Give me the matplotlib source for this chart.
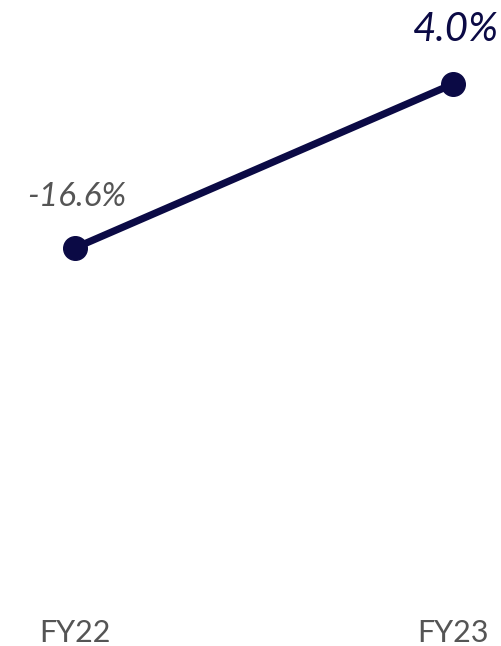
import matplotlib
matplotlib.use("Agg")
from matplotlib import pyplot as plt
import matplotlib.transforms as mtransforms

years = ["FY22", "FY23"]
values = [-16.6, 4.0]
labels = ["-16.6%", "4.0%"]

navy = "#0b0a45"
grey = "#555555"

fig = plt.figure(figsize=(5.01, 6.46), dpi=100)
ax = fig.add_axes([0, 0, 1, 1])
x = list(range(len(years)))
ax.plot(x, values, color=navy, linewidth=5.2, marker="o", markersize=17,
        solid_capstyle="round")

ax.set_xlim(-0.198, 1.127)
ax.set_ylim(-66.6, 14.55)
ax.axis("off")

# value labels above points
ax.annotate(labels[0], (x[0], values[0]), xytext=(1, 37), textcoords="offset points",
            ha="center", va="center", fontsize=24, style="italic",
            color=grey, family="Lato")
ax.annotate(labels[1], (x[1], values[1]), xytext=(2, 39), textcoords="offset points",
            ha="center", va="center", fontsize=29, style="italic",
            color=navy, family="Lato")

# category labels along the bottom
trans = mtransforms.blended_transform_factory(ax.transData, ax.transAxes)
for xi, yr in zip(x, years):
    ax.text(xi, 0.02, yr, transform=trans, ha="center", va="center",
            fontsize=22, color=grey, family="Lato")

fig.savefig("out.png", dpi=100)
